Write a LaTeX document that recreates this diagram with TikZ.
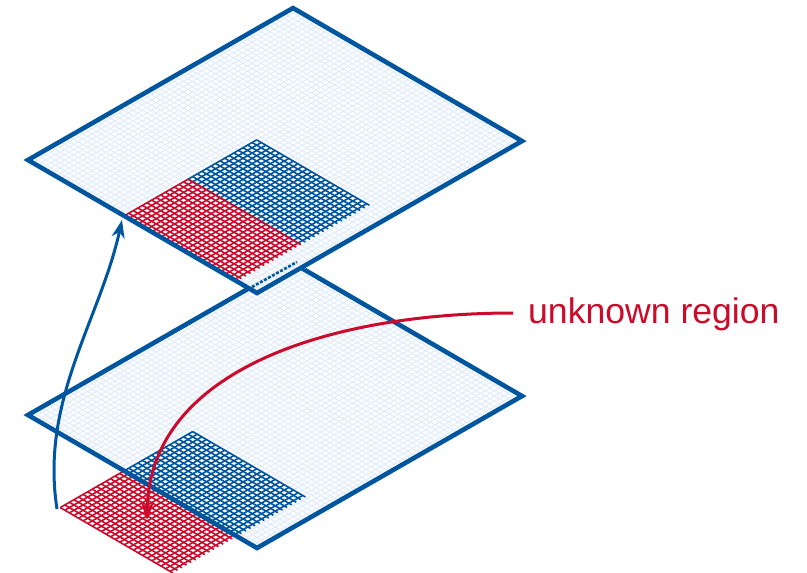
\documentclass[tikz,border=0pt]{standalone}
\usepackage{fontspec}
\setmainfont{Liberation Sans}
\usetikzlibrary{arrows.meta}
\definecolor{planeblue}{HTML}{00559F}
\definecolor{planered}{HTML}{CC0A2B}
\definecolor{faintgrid}{HTML}{E0ECF9}
\definecolor{planefill}{HTML}{FBFCFE}
\newcommand{\latticeblock}[5]{%
  \foreach \aa in {#1,...,#2} {\draw[#5] (\aa,#3) -- (\aa,#4+0.6);}
  \foreach \bb in {#3,...,#4} {\draw[#5] (#1,\bb) -- (#2,\bb);}
}
\newcommand{\planeblock}[3]{%
  \begin{scope}[shift={(#1,#2)}, x={(4.569pt,2.62pt)}, y={(4.58pt,-2.66pt)}]
    \fill[planefill] (0,0) -- (58,0) -- (58,50) -- (0,50) -- cycle;
    \latticeblock{0}{58}{0}{50}{faintline}
    \pgfmathsetmacro{\ra}{int(0-#3)}
    \pgfmathsetmacro{\rb}{int(14-#3)}
    \pgfmathsetmacro{\rc}{int(29-#3)}
    \latticeblock{\rb}{\rc}{21}{45}{blueline}
    \latticeblock{\ra}{\rb}{21}{45}{redline}
    \draw[planeedge] (0,0) -- (58,0) -- (58,50) -- (0,50) -- cycle;
  \end{scope}
}
\tikzset{
  faintline/.style={draw=faintgrid, line width=0.85pt},
  blueline/.style={draw=planeblue, line width=1.6pt},
  redline/.style={draw=planered, line width=1.6pt},
  planeedge/.style={draw=planeblue, line width=4.6pt, line join=miter},
  bluearrow/.style={draw=planeblue, line width=3pt, -{Stealth[length=18pt,width=13pt]}},
  redarrow/.style={draw=planered, line width=3pt, -{Stealth[length=18pt,width=13pt]}},
  labeltext/.style={text=planered, font=\fontsize{35.6pt}{40pt}\selectfont, anchor=west, inner sep=0pt}
}
\begin{document}
\begin{tikzpicture}[x=1pt,y=-1pt]
  \useasboundingbox (0,0) rectangle (807,573);
  \planeblock{28}{415}{14}
  \planeblock{28}{160}{0}
  % dashed row on the upper plane
  \coordinate (rowa) at (252,287);
  \coordinate (rowb) at (297,262);
  \draw[planeblue, line width=2.6pt, dash pattern=on 3pt off 1.6pt] (rowa) -- (rowb);
  % arrows
  \node[labeltext] (label) at (528,314) {unknown region};
  \coordinate (blueStart) at (57,509);
  \coordinate (blueEnd) at (122,220);
  \coordinate (redEnd) at (147,520);
  \coordinate (redStart) at (513,313);
  \draw[bluearrow] (blueStart) .. controls (40,400) and (100,320) .. (blueEnd);
  \draw[redarrow] (redStart) .. controls (330,313) and (150,370) .. (redEnd);
\end{tikzpicture}
\end{document}
